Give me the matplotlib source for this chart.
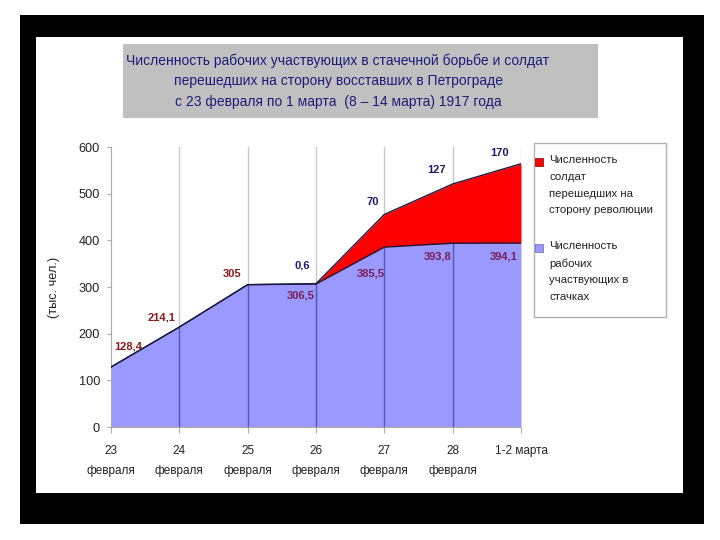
import matplotlib
matplotlib.use('Agg')
import matplotlib.pyplot as plt
from matplotlib.patches import Rectangle

plt.rcParams['font.family'] = ['Liberation Sans', 'DejaVu Sans']

# Данные
days = ['23\nфевраля', '24\nфевраля', '25\nфевраля', '26\nфевраля',
        '27\nфевраля', '28\nфевраля', '1-2 марта']
workers = [128.4, 214.1, 305, 306.5, 385.5, 393.8, 394.1]
soldiers = [0, 0, 0, 0.6, 70, 127, 170]
worker_labels = ['128,4', '214,1', '305', '306,5', '385,5', '393,8', '394,1']
soldier_labels = ['', '', '', '0,6', '70', '127', '170']

# смещения подписей (пиксели)
worker_off = [(17, 21), (-18, 10), (-16, 11), (-15, -12), (-14, -26), (-15, -13), (-17, -13)]
soldier_off = [None, None, None, (-14, 18), (-12, 12), (-16, 14), (-21, 11)]

W, H = 720, 540
fig = plt.figure(figsize=(7.2, 5.4), dpi=100)
fig.patch.set_facecolor('white')

def frect(x0, y0, x1, y1, **kw):
    fig.patches.append(Rectangle((x0 / W, 1 - y1 / H), (x1 - x0) / W, (y1 - y0) / H,
                                 transform=fig.transFigure, **kw))

frect(20, 15, 704, 524, facecolor='black', edgecolor='none', zorder=0)
frect(36, 37, 683, 493, facecolor='white', edgecolor='none', zorder=0)
frect(123, 44, 598, 118, facecolor='#c0c0c0', edgecolor='none', zorder=0)

title = ('Численность рабочих участвующих в стачечной борьбе и солдат\n'
         'перешедших на сторону восставших в Петрограде\n'
         'с 23 февраля по 1 марта  (8 – 14 марта) 1917 года')
fig.text(338 / W, 1 - 81 / H, title, ha='center', va='center', fontsize=10,
         color='#1c1c7a', linespacing=1.6)

ax = fig.add_axes([111 / W, 1 - 427 / H, 410 / W, 280 / H])
ax.set_zorder(3)
ax.set_facecolor('none')
x = list(range(len(days)))
total = [w + s for w, s in zip(workers, soldiers)]

for xi in x[1:]:
    ax.axvline(xi, color='#c8c8c8', lw=1, zorder=0)

ax.fill_between(x, 0, workers, color='#9999ff', lw=0, zorder=1)
ax.fill_between(x, workers, total, color='#ff0000', lw=0, zorder=1)
ax.plot(x, workers, color='#1a1a40', lw=1, zorder=3)
ax.plot(x, total, color='#1a1a40', lw=1, zorder=3)
ax.vlines(x[1:6], 0, workers[1:6], color='#3a3a80', lw=1, alpha=0.7, zorder=2)

for i in x:
    ax.annotate(worker_labels[i], (i, workers[i]), xytext=worker_off[i],
                textcoords='offset pixels', ha='center', va='center',
                fontsize=8, fontweight='bold',
                color='#8b1a1a' if i < 3 else '#7a1f55', zorder=4)
    if soldier_off[i] is not None:
        ax.annotate(soldier_labels[i], (i, total[i]), xytext=soldier_off[i],
                    textcoords='offset pixels', ha='center', va='center',
                    fontsize=8, fontweight='bold', color='#1c1c6e', zorder=4)

ax.set_xlim(0, 6)
ax.set_ylim(0, 600)
ax.set_xticks(x)
ax.set_xticklabels(days, fontsize=8.5, linespacing=1.9, color='#222222')
ax.set_yticks(range(0, 601, 100))
ax.tick_params(axis='y', labelsize=9.2, colors='#222222', length=3, color='#aaaaaa', pad=5)
ax.tick_params(axis='x', length=4, color='#aaaaaa', pad=9)
for s in ['top', 'right']:
    ax.spines[s].set_visible(False)
for s in ['left', 'bottom']:
    ax.spines[s].set_color('#aaaaaa')
ax.set_ylabel('(тыс. чел.)', fontsize=9.2, color='#222222', labelpad=13)

# легенда
frect(534, 143, 666, 317, facecolor='white', edgecolor='#b0b0b0', lw=1, zorder=1)
frect(535, 158, 543, 166, facecolor='#ff0000', edgecolor='#800000', lw=0.5, zorder=2)
frect(535, 244, 543, 252, facecolor='#9999ff', edgecolor='#6666aa', lw=0.5, zorder=2)
fig.text(549 / W, 1 - 155 / H, 'Численность\nсолдат\nперешедших на\nсторону революции',
         ha='left', va='top', fontsize=8.2, color='#222222', linespacing=1.85)
fig.text(549 / W, 1 - 241 / H, 'Численность\nрабочих\nучаствующих в\nстачках',
         ha='left', va='top', fontsize=8.2, color='#222222', linespacing=1.85)

fig.savefig('out.png', dpi=100)
